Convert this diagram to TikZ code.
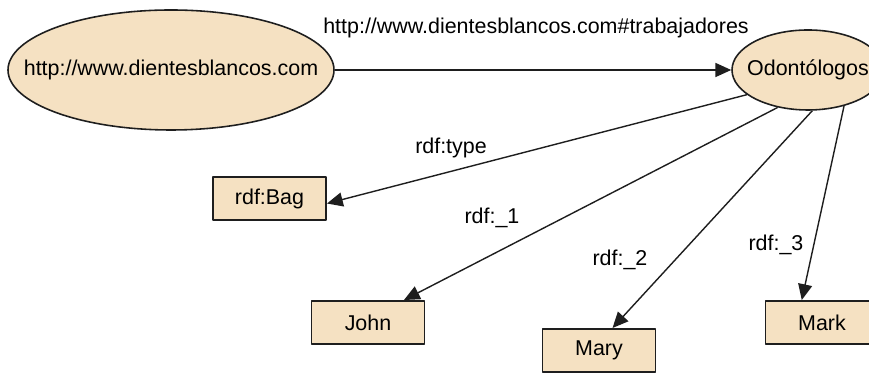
\documentclass[tikz,border=0pt]{standalone}
\usepackage{fontspec}
\setmainfont{Liberation Sans}
\usetikzlibrary{arrows.meta,shapes.geometric}
\definecolor{trigo}{RGB}{245,225,194}
\definecolor{borde}{RGB}{30,30,30}
\begin{document}
\begin{tikzpicture}[>={Triangle[length=9pt,width=8pt]}, font=\fontsize{12.2}{14}\selectfont, line join=round,
	recurso/.style={ellipse,draw=borde,fill=trigo,line width=0.9pt,inner sep=0pt},
	literal/.style={rectangle,draw=borde,fill=trigo,line width=1.1pt,minimum width=2.26cm,minimum height=0.86cm,inner sep=0pt},
	arco/.style={->,draw=borde,line width=0.8pt}]
		\def\W{17.38} \def\H{7.46}
		\useasboundingbox (0,0) rectangle (\W,\H);
		%\draw[color=gray!50,dashed] (0,0) grid (\W,\H);
		\node[recurso,minimum width=6.52cm,minimum height=2.4cm,label=center:{http://www.dientesblancos.com}] (web) at (3.42,6.06) {};
		\node[recurso,minimum width=3.04cm,minimum height=1.6cm,label=center:{Odontólogos}] (odon) at (16.16,6.06) {};
		\node[literal] (bag) at (5.39,3.49) {rdf:Bag};
		\node[literal] (john) at (7.36,1.01) {John};
		\node[literal] (mary) at (11.98,0.45) {Mary};
		\node[literal] (mark) at (16.44,1.01) {Mark};
		\draw[arco] (web) -- (odon);
		\draw[arco] (odon.202) -- (bag.-5);
		\draw[arco] (odon.231) -- (john.32);
		\draw[arco] (odon.276) -- (mary.59);
		\draw[arco] (odon.315) -- (mark.132);
		\node (trab) at (10.72,6.9) {http://www.dientesblancos.com\#trabajadores};
		\node (type) at (9.02,4.5) {rdf:type};
		\node (uno) at (9.84,3.1) {rdf:\_1};
		\node (dos) at (12.4,2.26) {rdf:\_2};
		\node (tres) at (15.52,2.56) {rdf:\_3};
	\end{tikzpicture}
\end{document}
